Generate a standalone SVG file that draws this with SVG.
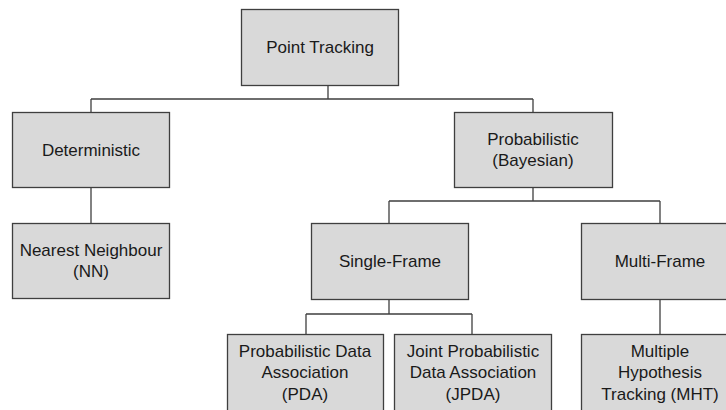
<svg xmlns="http://www.w3.org/2000/svg" width="726" height="410" viewBox="0 0 726 410">
<style>
.box{fill:#d9d9d9;stroke:#3f3f3f;stroke-width:1.3}
.lbl{font-family:"Liberation Sans",Arial,sans-serif;font-size:17px;fill:#1a1a1a;text-anchor:middle}
.con{fill:none;stroke:#3f3f3f;stroke-width:1.3}
</style>
<rect width="726" height="410" fill="#ffffff"/>
<g id="connectors">
<path class="con" d="M328 85V99M91 99H533M91 99V112M533 99V112"/>
<path class="con" d="M91 187V223"/>
<path class="con" d="M533 187V201M389 201H660M389 201V223M660 201V223"/>
<path class="con" d="M389 299V314M306 314H472M306 314V334M472 314V334"/>
<path class="con" d="M660 299V334"/>
</g>
<g id="point-tracking"><rect class="box" x="241.5" y="9.5" width="157" height="76"/><text class="lbl" x="320" y="53">Point Tracking</text></g>
<g id="deterministic"><rect class="box" x="12.5" y="112.5" width="157" height="75"/><text class="lbl" x="91" y="156">Deterministic</text></g>
<g id="probabilistic"><rect class="box" x="454.5" y="112.5" width="158" height="75"/><text class="lbl" x="533" y="145">Probabilistic</text><text class="lbl" x="533" y="166">(Bayesian)</text></g>
<g id="nearest-neighbour"><rect class="box" x="12.5" y="223.5" width="157" height="75"/><text class="lbl" x="91" y="256">Nearest Neighbour</text><text class="lbl" x="91" y="277">(NN)</text></g>
<g id="single-frame"><rect class="box" x="311.5" y="223.5" width="157" height="76"/><text class="lbl" x="390" y="267">Single-Frame</text></g>
<g id="multi-frame"><rect class="box" x="581.5" y="223.5" width="157" height="76"/><text class="lbl" x="660" y="267">Multi-Frame</text></g>
<g id="pda"><rect class="box" x="227.5" y="334.5" width="156" height="80"/><text class="lbl" x="305" y="357">Probabilistic Data</text><text class="lbl" x="305" y="378">Association</text><text class="lbl" x="305" y="400">(PDA)</text></g>
<g id="jpda"><rect class="box" x="394.5" y="334.5" width="157" height="80"/><text class="lbl" x="473" y="357">Joint Probabilistic</text><text class="lbl" x="473" y="378">Data Association</text><text class="lbl" x="473" y="400">(JPDA)</text></g>
<g id="mht"><rect class="box" x="581.5" y="334.5" width="157" height="80"/><text class="lbl" x="660" y="357">Multiple</text><text class="lbl" x="660" y="378">Hypothesis</text><text class="lbl" x="660" y="400">Tracking (MHT)</text></g>
</svg>
